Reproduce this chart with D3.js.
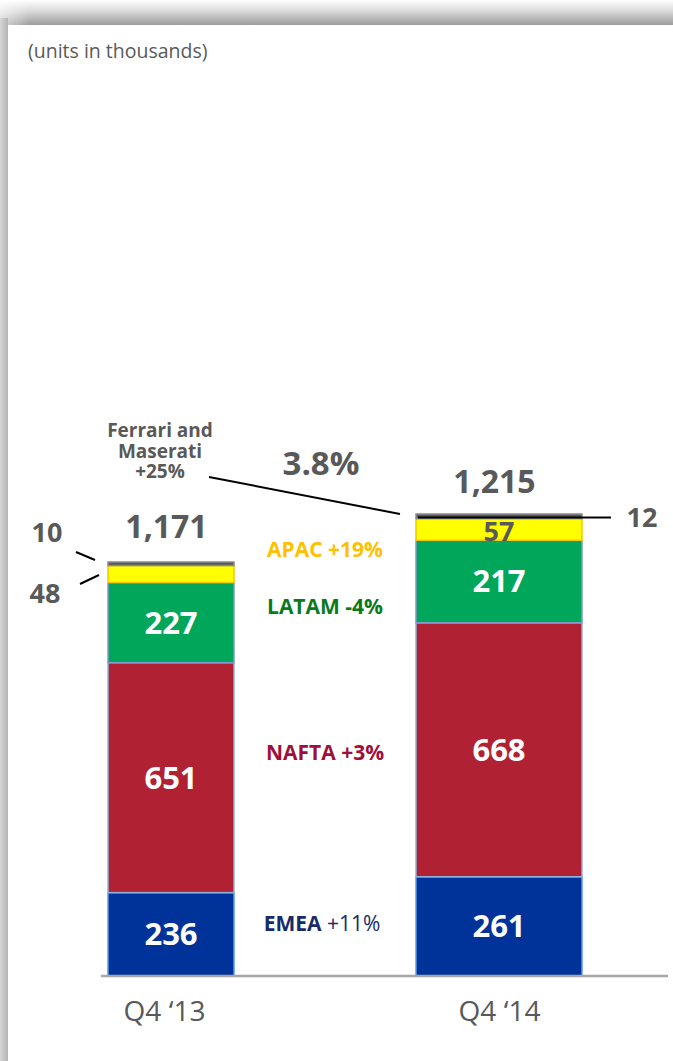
<!DOCTYPE html>
<html>
<head>
<meta charset="utf-8">
<script src="https://cdn.jsdelivr.net/npm/d3@7/dist/d3.min.js"></script>
<style>
  html, body { margin: 0; padding: 0; background: #fff; }
  svg { display: block; font-family: "Open Sans", "Noto Sans", sans-serif; }
</style>
</head>
<body>
<svg id="chart" width="673" height="1061"></svg>
<script>
// ---- data ----
const categories = ["Q4 \u201813", "Q4 \u201814"];
const regions = ["EMEA", "NAFTA", "LATAM", "APAC", "Ferrari and Maserati"];
const emea = [236, 261];
const nafta = [651, 668];
const latam = [227, 217];
const apac = [48, 57];
const ferrariMaserati = [10, 12];
const totals = [1171, 1215];
const regionGrowth = ["+11%", "+3%", "-4%", "+19%", "+25%"];
const totalGrowth = "3.8%";
const unitNote = "(units in thousands)";

// ---- styling ----
const W = 673, H = 1061;
const fills = { "EMEA": "#00339a", "NAFTA": "#b12134", "LATAM": "#00a65a", "APAC": "#ffff00", "Ferrari and Maserati": "#595959" };
const strokes = { "EMEA": "#5b9be6", "NAFTA": "#8fb2de", "LATAM": "#7f9bd0", "APAC": "#f7c600", "Ferrari and Maserati": "#8a8a8a" };
const labelColors = { "EMEA": "#172a69", "NAFTA": "#9e0f3b", "LATAM": "#0b7a1c", "APAC": "#ffc000" };
const gray = "#595959";

const svg = d3.select("#chart");
const defs = svg.append("defs");

// ---- slide frame with shadow ----
const gTop = defs.append("linearGradient").attr("id", "gTop").attr("x1", 0).attr("y1", 0).attr("x2", 0).attr("y2", 1);
gTop.append("stop").attr("offset", "0%").attr("stop-color", "#ffffff");
gTop.append("stop").attr("offset", "45%").attr("stop-color", "#d9d9d9");
gTop.append("stop").attr("offset", "100%").attr("stop-color", "#9c9c9c");
const gLeft = defs.append("linearGradient").attr("id", "gLeft").attr("x1", 0).attr("y1", 0).attr("x2", 1).attr("y2", 0);
gLeft.append("stop").attr("offset", "0%").attr("stop-color", "#d6d6d6");
gLeft.append("stop").attr("offset", "100%").attr("stop-color", "#b4b4b4");
const gFade = defs.append("linearGradient").attr("id", "gFade").attr("x1", 0).attr("y1", 0).attr("x2", 1).attr("y2", 0);
gFade.append("stop").attr("offset", "0%").attr("stop-color", "#fff").attr("stop-opacity", 1);
gFade.append("stop").attr("offset", "100%").attr("stop-color", "#fff").attr("stop-opacity", 0);

svg.append("rect").attr("x", 0).attr("y", 0).attr("width", W).attr("height", H).attr("fill", "#fff");
svg.append("rect").attr("x", 0).attr("y", 0).attr("width", W).attr("height", 25).attr("fill", "url(#gTop)");
svg.append("rect").attr("x", 0).attr("y", 0).attr("width", 30).attr("height", 25).attr("fill", "url(#gFade)").attr("opacity", 0.6);
svg.append("rect").attr("x", 0).attr("y", 18).attr("width", 8).attr("height", H - 18).attr("fill", "url(#gLeft)");
svg.append("rect").attr("x", 8).attr("y", 25).attr("width", W - 8).attr("height", H - 25).attr("fill", "#fff");

svg.append("text").attr("x", 28).attr("y", 58)
  .attr("font-size", 19.5).attr("fill", gray).text(unitNote);

// ---- scales ----
const baseY = 976;
const topY = [562, 514];
const barWidths = [126, 166];
const x = d3.scalePoint().domain(categories).range([171, 499]);

const table = categories.map((c, i) => ({
  category: c,
  "EMEA": emea[i], "NAFTA": nafta[i], "LATAM": latam[i], "APAC": apac[i], "Ferrari and Maserati": ferrariMaserati[i]
}));
const stacked = d3.stack().keys(regions)(table);
const yScales = categories.map((c, i) => {
  const sum = d3.sum(regions, k => table[i][k]);
  return d3.scaleLinear().domain([0, sum]).range([baseY, topY[i]]);
});

// ---- bars ----
const gBars = svg.append("g");
stacked.forEach(layer => {
  layer.forEach((d, i) => {
    const y = yScales[i];
    const cx = x(categories[i]);
    gBars.append("rect")
      .attr("x", cx - barWidths[i] / 2)
      .attr("y", y(d[1]))
      .attr("width", barWidths[i])
      .attr("height", y(d[0]) - y(d[1]))
      .attr("fill", fills[layer.key])
      .attr("stroke", strokes[layer.key])
      .attr("stroke-width", 1.5);
  });
});

// ---- axis baseline and category labels ----
svg.append("line").attr("x1", 101).attr("x2", 668).attr("y1", baseY).attr("y2", baseY)
  .attr("stroke", "#a6a6a6").attr("stroke-width", 2.5);
const labelDx = [-7, 0];
const xAxis = svg.append("g").attr("transform", `translate(0,${baseY})`)
  .call(d3.axisBottom(x).tickSize(0).tickPadding(0));
xAxis.select(".domain").remove();
xAxis.selectAll(".tick text")
  .attr("font-family", "'Open Sans', sans-serif")
  .attr("font-size", 28).attr("fill", gray)
  .attr("dy", 0).attr("y", 45)
  .attr("dx", (d, i) => labelDx[i]);

// ---- in-bar value labels ----
const inside = { "EMEA": [true, true], "NAFTA": [true, true], "LATAM": [true, true], "APAC": [false, true], "Ferrari and Maserati": [false, false] };
stacked.forEach(layer => {
  layer.forEach((d, i) => {
    if (!inside[layer.key][i]) return;
    const y = yScales[i];
    const isApac = layer.key === "APAC";
    svg.append("text")
      .attr("x", x(categories[i]))
      .attr("y", isApac ? y(d[0]) + 1 : (y(d[0]) + y(d[1])) / 2 + 11)
      .attr("text-anchor", "middle")
      .attr("font-size", isApac ? 27 : 31).attr("font-weight", 700)
      .attr("fill", isApac ? gray : "#fff")
      .text(d.data[layer.key]);
  });
});

// ---- totals ----
totals.forEach((t, i) => {
  svg.append("text")
    .attr("x", x(categories[i]) - 4.5)
    .attr("y", yScales[i](d3.sum(regions, k => table[i][k])) - [24, 21][i])
    .attr("text-anchor", "middle")
    .attr("font-size", 32).attr("font-weight", 700).attr("fill", gray)
    .text(d3.format(",")(t));
});
svg.append("text").attr("x", 321).attr("y", 475).attr("text-anchor", "middle")
  .attr("font-size", 33).attr("font-weight", 700).attr("fill", gray).text(totalGrowth);

// ---- outside labels with leaders ----
const lineStyle = sel => sel.attr("stroke", "#000").attr("stroke-width", 2);
const yL = yScales[0], yR = yScales[1];
const leftEdge = x(categories[0]) - barWidths[0] / 2;
svg.append("text").attr("x", 47).attr("y", 542).attr("text-anchor", "middle")
  .attr("font-size", 27).attr("font-weight", 700).attr("fill", gray).text(ferrariMaserati[0]);
svg.append("line").attr("x1", 76).attr("y1", 552).attr("x2", leftEdge - 13).attr("y2", yL(stacked[4][0][1]) - 2).call(lineStyle);
svg.append("text").attr("x", 45).attr("y", 603).attr("text-anchor", "middle")
  .attr("font-size", 27).attr("font-weight", 700).attr("fill", gray).text(apac[0]);
svg.append("line").attr("x1", 80).attr("y1", 584).attr("x2", leftEdge - 9).attr("y2", 575).call(lineStyle);

const rightLeft = x(categories[1]) - barWidths[1] / 2;
const ferTopR = yR(stacked[4][1][0]);
svg.append("line").attr("x1", rightLeft + 2).attr("x2", 611).attr("y1", ferTopR - 1).attr("y2", ferTopR - 1).call(lineStyle);
svg.append("text").attr("x", 642).attr("y", 527).attr("text-anchor", "middle")
  .attr("font-size", 27).attr("font-weight", 700).attr("fill", gray).text(ferrariMaserati[1]);

// Ferrari and Maserati growth callout
const fm = svg.append("text").attr("text-anchor", "middle").attr("font-size", 19)
  .attr("font-weight", 700).attr("fill", gray);
["Ferrari and", "Maserati", regionGrowth[4]].forEach((t, j) => {
  fm.append("tspan").attr("x", 160).attr("y", 437 + j * 20.5).text(t);
});
svg.append("line").attr("x1", 209).attr("y1", 477).attr("x2", rightLeft - 16).attr("y2", yR(stacked[4][1][1])).call(lineStyle);

// ---- region growth labels (middle column) ----
const regionLabelY = { "APAC": 557, "LATAM": 614, "NAFTA": 760, "EMEA": 931 };
["APAC", "LATAM", "NAFTA"].forEach(k => {
  const idx = regions.indexOf(k);
  svg.append("text").attr("x", 325).attr("y", regionLabelY[k]).attr("text-anchor", "middle")
    .attr("font-size", 21).attr("font-weight", 700).attr("fill", labelColors[k])
    .text(k + " " + regionGrowth[idx]);
});
const em = svg.append("text").attr("x", 322).attr("y", regionLabelY["EMEA"]).attr("text-anchor", "middle")
  .attr("font-size", 21).attr("fill", labelColors["EMEA"]);
em.append("tspan").attr("font-weight", 700).text("EMEA");
em.append("tspan").text(" " + regionGrowth[0]);
</script>
</body>
</html>
